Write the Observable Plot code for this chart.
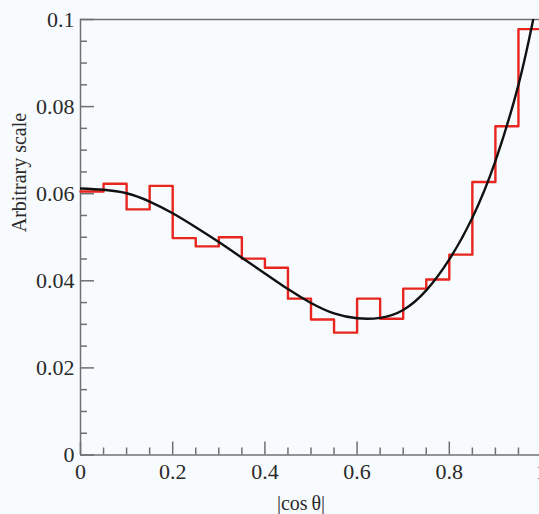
<!DOCTYPE html>
<html>
<head>
<meta charset="utf-8">
<script src="https://cdn.jsdelivr.net/npm/d3@7"></script>
<script src="https://cdn.jsdelivr.net/npm/@observablehq/plot@0.6"></script>
<style>
  html, body { margin: 0; padding: 0; background: #f8fbfd; }
  #chart svg { display: block; }
</style>
</head>
<body>
<div id="chart"></div>
<script>
// Histogram of |cos θ| in 20 bins of width 0.05 (lower bin edges and heights)
const binWidth = 0.05;
const binLower = [0, 0.05, 0.1, 0.15, 0.2, 0.25, 0.3, 0.35, 0.4, 0.45,
                  0.5, 0.55, 0.6, 0.65, 0.7, 0.75, 0.8, 0.85, 0.9, 0.95];
const binHeight = [0.0605, 0.0623, 0.0564, 0.0618, 0.0498, 0.0479, 0.0500, 0.0451, 0.0430, 0.0359,
                   0.0311, 0.0281, 0.0359, 0.0313, 0.0382, 0.0403, 0.0460, 0.0627, 0.0755, 0.0978];

// Fitted distribution, sampled along |cos θ|
const fitX = [0, 0.05, 0.1, 0.15, 0.2, 0.25, 0.3, 0.35, 0.4, 0.45, 0.5, 0.55,
              0.6, 0.65, 0.7, 0.75, 0.8, 0.85, 0.9, 0.95, 0.982];
const fitY = [0.0612, 0.0609, 0.0601, 0.0582, 0.0555, 0.0523, 0.0489, 0.0453, 0.0417, 0.0381, 0.0349, 0.0325,
              0.0314, 0.0315, 0.0333, 0.0378, 0.0449, 0.0545, 0.0675, 0.0850, 0.1];

// Axis ticks
const xMajor = [0, 0.2, 0.4, 0.6, 0.8, 1];
const xLabels = ["0", "0.2", "0.4", "0.6", "0.8", "1"];
const yMajor = [0, 0.02, 0.04, 0.06, 0.08, 0.1];
const yLabels = ["0", "0.02", "0.04", "0.06", "0.08", "0.1"];
const xMinor = [0.05, 0.1, 0.15, 0.25, 0.3, 0.35, 0.45, 0.5, 0.55, 0.65, 0.7, 0.75, 0.85, 0.9, 0.95];
const yMinor = [0.005, 0.01, 0.015, 0.025, 0.03, 0.035, 0.045, 0.05, 0.055, 0.065, 0.07, 0.075, 0.085, 0.09, 0.095];

const xTitle = "|cos\u2009θ|";
const yTitle = "Arbitrary scale";

// Step outline: each bin's left edge, plus the closing right edge of the last bin
const steps = binLower.map((x, i) => ({x, y: binHeight[i]}));
steps.push({x: binLower[binLower.length - 1] + binWidth, y: binHeight[binHeight.length - 1]});

const fit = fitX.map((x, i) => ({x, y: fitY[i]}));

const axisGray = "#707070";
const fmt = (ticks, labels) => (d) => labels[ticks.indexOf(d)];

const chart = Plot.plot({
  width: 539,
  height: 514,
  marginLeft: 80,
  marginRight: 0,
  marginTop: 19,
  marginBottom: 59.5,
  style: {
    fontFamily: "'Liberation Serif', 'Times New Roman', serif",
    background: "#f8fbfd",
    color: "#2a2a2a"
  },
  x: {domain: [0, 1], range: [80, 541]},
  y: {domain: [0, 0.1]},
  marks: [
    // box edges
    Plot.ruleX([0], {stroke: axisGray, strokeWidth: 1.5}),
    Plot.ruleY([0, 0.1], {stroke: axisGray, strokeWidth: 1.5}),
    // inward ticks
    Plot.axisX(xMajor, {tickSize: -13, fill: "none", stroke: axisGray, strokeWidth: 1.5, label: null}),
    Plot.axisX(xMinor, {tickSize: -7, fill: "none", stroke: axisGray, strokeWidth: 1.5, label: null}),
    Plot.axisY(yMajor, {tickSize: -14, fill: "none", stroke: axisGray, strokeWidth: 1.5, label: null}),
    Plot.axisY(yMinor, {tickSize: -7, fill: "none", stroke: axisGray, strokeWidth: 1.5, label: null}),
    // tick labels
    Plot.axisX(xMajor, {tickSize: 0, tickPadding: 8, fontSize: 22, tickFormat: fmt(xMajor, xLabels), label: null}),
    Plot.axisY(yMajor, {tickSize: 0, tickPadding: 6, fontSize: 22, tickFormat: fmt(yMajor, yLabels), label: null}),
    // axis titles
    Plot.text([xTitle], {frameAnchor: "bottom", lineAnchor: "top", dy: 41, dx: -9, fontSize: 20, fill: "#2a2a2a"}),
    Plot.text([yTitle], {frameAnchor: "left", rotate: -90, dx: -61, dy: -5, fontSize: 20, fill: "#2a2a2a"}),
    // histogram
    Plot.line(steps, {x: "x", y: "y", curve: "step-after", stroke: "#e8261f", strokeWidth: 2.4}),
    // fitted curve
    Plot.line(fit, {x: "x", y: "y", curve: "natural", stroke: "#111", strokeWidth: 2.4, clip: true})
  ]
});

document.getElementById("chart").appendChild(chart);
</script>
</body>
</html>
